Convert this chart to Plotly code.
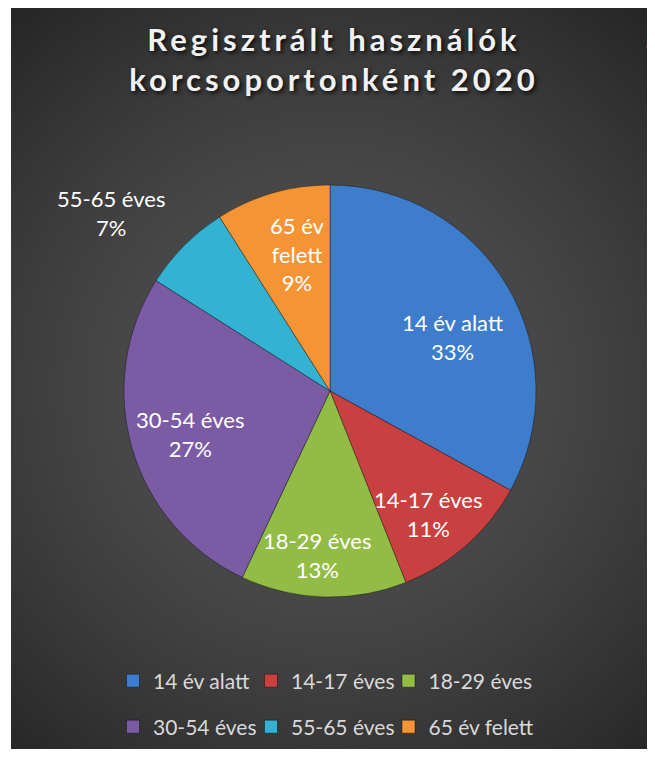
import math, zlib, struct, base64
import plotly.graph_objects as go

# ---- data ----
labels = ["14 év alatt", "14-17 éves", "18-29 éves", "30-54 éves", "55-65 éves", "65 év felett"]
slice_text = ["14 év alatt", "14-17 éves", "18-29 éves", "30-54 éves", "55-65 éves", "65 év<br>felett"]
values = [33, 11, 13, 27, 7, 9]
colors = ["#3d7dcb", "#c8403f", "#93bc46", "#7c5ba5", "#34b2d2", "#f59435"]
# label placement (distance in pie radii, angular nudge in degrees)
label_radius = [0.648, 0.764, 0.80, 0.71, 1.37, 0.684]
label_nudge = [6.7, 2.9, 2.7, -0.9, -5.9, 2.7]
title_lines = ["Regisztrált használók", "korcsoportonként 2020"]

# page has an 8px body margin: figure is drawn at screen offset (8, 8)
OFF = 8
W, H = 655 - OFF, 758 - OFF


def px(x):
    return (x - OFF) / W


def py(y):
    return 1 - (y - OFF) / H


BX0, BY0, BX1, BY1 = 11, 8, 648, 749  # dark panel, screen px


def gradient_png(w, h):
    rows = []
    for j in range(h):
        row = bytearray([0])
        yy = BY0 + (j + 0.5) / h * (BY1 - BY0)
        for i in range(w):
            xx = BX0 + (i + 0.5) / w * (BX1 - BX0)
            d = min(math.hypot(xx - 330, yy - 390) / 490.0, 1.0)
            v = int(round(84 - 46 * d ** 1.5))
            row += bytes((v, v, v))
        rows.append(bytes(row))
    raw = b"".join(rows)

    def chunk(tag, data):
        c = struct.pack(">I", len(data)) + tag + data
        return c + struct.pack(">I", zlib.crc32(tag + data) & 0xFFFFFFFF)

    png = (b"\x89PNG\r\n\x1a\n"
           + chunk(b"IHDR", struct.pack(">IIBBBBB", w, h, 8, 2, 0, 0, 0))
           + chunk(b"IDAT", zlib.compress(raw, 9))
           + chunk(b"IEND", b""))
    return "data:image/png;base64," + base64.b64encode(png).decode()


bg = gradient_png(BX1 - BX0, BY1 - BY0)

cx, cy, r = 330, 391, 206  # screen px
dom_x = [px(cx - r), px(cx + r)]
dom_y = [py(cy + r), py(cy - r)]

fig = go.Figure()
fig.add_trace(go.Pie(
    labels=labels, values=values,
    textinfo="none",
    sort=False, direction="clockwise", rotation=0,
    marker=dict(colors=colors, line=dict(color="rgba(0,0,0,0.35)", width=1)),
    domain=dict(x=dom_x, y=dom_y),
    showlegend=False, hoverinfo="label+percent",
))

# data labels placed around each slice's mid-angle
total = sum(values)
annotations = []
cum = 0
for v, t, f, nd in zip(values, slice_text, label_radius, label_nudge):
    mid = (cum + v / 2) / total * 2 * math.pi + math.radians(nd)
    cum += v
    lx = cx + f * r * math.sin(mid)
    ly = cy - f * r * math.cos(mid)
    annotations.append(dict(
        x=px(lx), y=py(ly), xref="paper", yref="paper",
        text=f"{t}<br>{round(v / total * 100)}%", showarrow=False,
        xanchor="center", yanchor="middle", align="center",
        font=dict(family="Lato", size=22, color="#ffffff"),
    ))

# legend: one legend per entry, laid out in 3 columns x 2 rows
col_sym_x = [132.0, 270.0, 407.5]   # symbol centres, screen px
row_y = [681, 727]
legend_layout = {}
for i, (lab, col) in enumerate(zip(labels, colors)):
    key = "legend" if i == 0 else f"legend{i + 1}"
    fig.add_trace(go.Scatter(
        x=[None], y=[None], mode="markers", name=lab,
        marker=dict(symbol="square", size=13, color=col,
                    line=dict(color="rgba(0,0,0,0.4)", width=1)),
        legend=key,
    ))
    legend_layout[key] = dict(
        orientation="h", bgcolor="rgba(0,0,0,0)",
        font=dict(family="Lato", size=21, color="#d9d9d9"),
        xanchor="left", yanchor="middle",
        x=px(col_sym_x[i % 3] - 19), y=py(row_y[i // 3]),
    )

title_text = "<br>".join(
    '<span style="letter-spacing:4px">' + t + "</span>" for t in title_lines)

fig.update_layout(
    width=W, height=H,
    margin=dict(l=0, r=0, t=0, b=0),
    paper_bgcolor="#ffffff",
    plot_bgcolor="rgba(0,0,0,0)",
    xaxis=dict(visible=False), yaxis=dict(visible=False),
    title=dict(
        text=title_text, x=px(334), xanchor="center",
        y=1 - 43 / H, yanchor="middle",
        font=dict(family="Lato", size=31, weight="bold", color="#f2f2f2",
                  shadow="2px 2px 4px rgba(0,0,0,0.85)"),
    ),
    annotations=annotations,
    images=[dict(source=bg, xref="paper", yref="paper",
                 x=px(BX0), y=py(BY0),
                 sizex=(BX1 - BX0) / W, sizey=(BY1 - BY0) / H,
                 sizing="stretch", xanchor="left", yanchor="top",
                 layer="below")],
    shapes=[dict(type="path", xref="paper", yref="paper",
                 path="M {:.4f},{:.4f} L {:.4f},{:.4f} L {:.4f},{:.4f} Z".format(
                     px(656), py(36), px(646), py(47), px(656), py(58)),
                 fillcolor="#c0504d", line=dict(width=0), layer="above")],
    **legend_layout,
)

fig.write_html("out.html")
